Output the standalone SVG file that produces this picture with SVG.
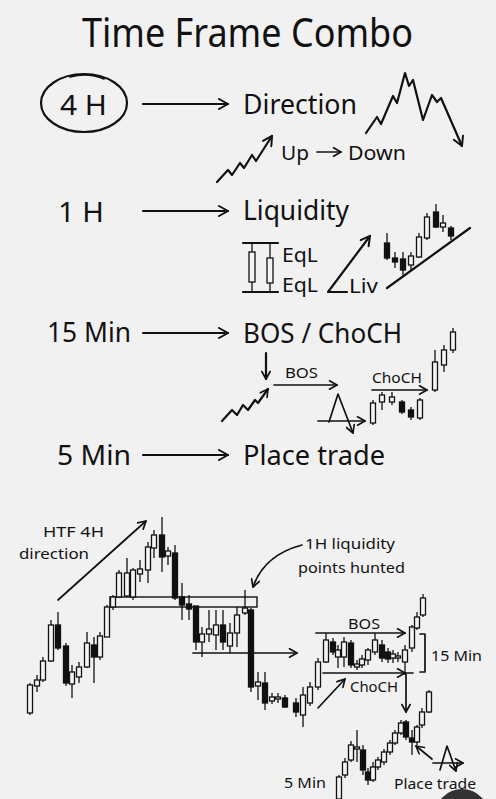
<svg xmlns="http://www.w3.org/2000/svg" width="496" height="799" viewBox="0 0 496 799">
<style>
text{font-family:"Noto Sans","Liberation Sans",sans-serif;fill:#111}
.t{font-size:28px}
.m{font-size:20px}
.s{font-size:15px}
.ln{fill:none;stroke:#111;stroke-width:2.2;stroke-linecap:round;stroke-linejoin:round}
.ln2{fill:none;stroke:#111;stroke-width:1.7;stroke-linecap:round;stroke-linejoin:round}
.cd path{stroke:#111;stroke-width:1.3;fill:none}
.cd rect{stroke:#111;stroke-width:1.3}
.w{fill:#f4f4f4}
.k{fill:#111}
</style>
<defs>
<marker id="a" viewBox="0 0 12 12" refX="11" refY="6" markerWidth="12" markerHeight="12" markerUnits="userSpaceOnUse" orient="auto"><path d="M2,1 L11,6 L2,11" fill="none" stroke="#111" stroke-width="2" stroke-linecap="round" stroke-linejoin="round"/></marker>
<marker id="b" viewBox="0 0 12 12" refX="11" refY="6" markerWidth="10" markerHeight="10" markerUnits="userSpaceOnUse" orient="auto"><path d="M2,1 L11,6 L2,11" fill="none" stroke="#111" stroke-width="2" stroke-linecap="round" stroke-linejoin="round"/></marker>
</defs>
<rect width="496" height="799" fill="#f1f1f1"/>

<g id="title"><text x="82" y="47" font-size="40" textLength="331" lengthAdjust="spacingAndGlyphs">Time Frame Combo</text></g>

<g id="row-4h">
<ellipse cx="84" cy="103" rx="43" ry="29" class="ln"/>
<path class="ln2" d="M70,77 Q88,72 104,79"/>
<text class="t" x="60" y="115" textLength="47" lengthAdjust="spacingAndGlyphs">4 H</text>
<text class="t" x="243" y="114" textLength="114" lengthAdjust="spacingAndGlyphs">Direction</text>
<path class="ln" d="M366,133 L377,117 L381,124 L393,96 L397,103 L405,73 L409,86 L413,80 L423,120 L432,95 L437,102 L441,98 L462,146" marker-end="url(#a)"/>
<path class="ln" d="M217,182 L228,170 L232,175 L240,163 L244,168 L252,155 L256,161 L263,150 L272,136" marker-end="url(#a)"/>
<text class="m" x="281" y="160" textLength="28" lengthAdjust="spacingAndGlyphs">Up</text>
<path class="ln2" d="M317,152H341" marker-end="url(#b)"/>
<text class="m" x="348" y="160" textLength="58" lengthAdjust="spacingAndGlyphs">Down</text>
</g>

<g id="row-1h">
<text class="t" x="58" y="222" textLength="46" lengthAdjust="spacingAndGlyphs">1 H</text>
<text class="t" x="243" y="220" textLength="106" lengthAdjust="spacingAndGlyphs">Liquidity</text>
<path class="ln" d="M243,243H278M243,292H278"/>
<g class="cd">
<path d="M252,243V292M270,243V292"/><rect class="w" x="249" y="252" width="6" height="30"/><rect class="w" x="267" y="258" width="6" height="25"/>
</g>
<text class="m" x="282" y="262" font-size="19" textLength="36" lengthAdjust="spacingAndGlyphs">EqL</text>
<text class="m" x="282" y="292" font-size="19" textLength="36" lengthAdjust="spacingAndGlyphs">EqL</text>
<path class="ln" d="M347,292H328L370,236" marker-end="url(#a)"/>
<text class="m" x="349" y="293" textLength="29" lengthAdjust="spacingAndGlyphs">Liv</text>
<path class="ln" d="M387,288L470,228"/>
<g class="cd">
<path d="M387,233V260"/><rect class="k" x="384.5" y="243" width="5" height="15"/>
<path d="M395,252V268"/><rect class="k" x="392.5" y="258" width="5" height="4"/>
<path d="M403,252V275"/><rect class="k" x="400.5" y="259" width="5" height="11"/>
<path d="M411,252V270"/><rect class="w" x="408.5" y="256" width="5" height="9"/>
<path d="M419,233V258"/><rect class="w" x="416.5" y="237" width="5" height="20"/>
<path d="M427,213V240"/><rect class="w" x="424.5" y="217" width="5" height="21"/>
<path d="M436,204V228"/><rect class="k" x="433.5" y="212" width="5" height="15"/>
<path d="M443,215V232"/><rect class="w" x="440.5" y="223" width="5" height="4"/>
<path d="M451,226V240"/><rect class="k" x="448.5" y="228" width="5" height="8"/>
</g>
</g>

<g id="row-15m">
<text class="t" x="47" y="342" textLength="84" lengthAdjust="spacingAndGlyphs">15 Min</text>
<text class="t" x="243" y="343" textLength="159" lengthAdjust="spacingAndGlyphs">BOS / ChoCH</text>
<path class="ln" d="M266,353V379" marker-end="url(#b)"/>
<path class="ln" d="M222,421 L232,410 L237,415 L243,405 L248,410 L255,400 L258,403 L268,389" marker-end="url(#b)"/>
<text class="s" x="285" y="378" font-size="16" textLength="33" lengthAdjust="spacingAndGlyphs">BOS</text>
<path class="ln2" d="M274,385H337" marker-end="url(#b)"/>
<path class="ln2" d="M318,421H365" marker-end="url(#b)"/>
<path class="ln2" d="M329,422L338,394L353,433" marker-end="url(#b)"/>
<text class="s" x="372" y="383" font-size="16" textLength="50" lengthAdjust="spacingAndGlyphs">ChoCH</text>
<path class="ln2" d="M372,390H427" marker-end="url(#b)"/>
<g class="cd">
<path d="M373,400V425"/><rect class="w" x="370.5" y="403" width="5" height="20"/>
<path d="M382,392V410"/><rect class="w" x="379.5" y="395" width="5" height="7"/>
<path d="M392,392V405"/><rect class="w" x="389.5" y="397" width="5" height="5"/>
<path d="M402,400V414"/><rect class="k" x="399.5" y="402" width="5" height="10"/>
<path d="M411,407V420"/><rect class="k" x="408.5" y="410" width="5" height="7"/>
<path d="M420,398V420"/><rect class="w" x="417.5" y="400" width="5" height="18"/>
<path d="M435,350V392"/><rect class="w" x="432.5" y="362" width="5" height="28"/>
<path d="M444,345V372"/><rect class="w" x="441.5" y="350" width="5" height="15"/>
<path d="M453,328V353"/><rect class="w" x="450.5" y="332" width="5" height="18"/>
</g>
</g>

<g id="row-5m">
<text class="t" x="57" y="465" textLength="74" lengthAdjust="spacingAndGlyphs">5 Min</text>
<text class="t" x="243" y="465" textLength="142" lengthAdjust="spacingAndGlyphs">Place trade</text>
</g>

<g id="connectors">
<path class="ln" d="M143,104H228" marker-end="url(#a)"/>
<path class="ln" d="M143,211H228" marker-end="url(#a)"/>
<path class="ln" d="M143,333H228" marker-end="url(#a)"/>
<path class="ln" d="M143,455H228" marker-end="url(#a)"/>
</g>

<g id="chart">
<text class="s" x="43" y="537" textLength="61" lengthAdjust="spacingAndGlyphs">HTF 4H</text>
<text class="s" x="19" y="559" textLength="70" lengthAdjust="spacingAndGlyphs">direction</text>
<path class="ln2" d="M58,600L146,521" marker-end="url(#b)"/>
<text class="s" x="305" y="549" textLength="90" lengthAdjust="spacingAndGlyphs">1H liquidity</text>
<text class="s" x="298" y="573" textLength="107" lengthAdjust="spacingAndGlyphs">points hunted</text>
<path class="ln2" d="M302,545Q264,555 253,587" marker-end="url(#b)"/>
<rect x="110" y="597" width="147" height="10" fill="none" stroke="#111" stroke-width="1.4"/>
<path class="ln2" d="M193,653H297" marker-end="url(#b)"/>
<g class="cd">
<path d="M30,683V715"/><rect class="w" x="27.5" y="685" width="5" height="28"/>
<path d="M37,675V692"/><rect class="w" x="34.5" y="680" width="5" height="6"/>
<path d="M43,657V682"/><rect class="w" x="40.5" y="661" width="5" height="19"/>
<path d="M51,620V662"/><rect class="w" x="48.5" y="625" width="5" height="36"/>
<path d="M58,612V650"/><rect class="k" x="55.5" y="625" width="5" height="23"/>
<path d="M66,643V686"/><rect class="k" x="63.5" y="646" width="5" height="37"/>
<path d="M72,665V698"/><rect class="w" x="69.5" y="672" width="5" height="12"/>
<path d="M79,662V683"/><rect class="w" x="76.5" y="667" width="5" height="10"/>
<path d="M87,632V668"/><rect class="w" x="84.5" y="643" width="5" height="24"/>
<path d="M94,637V683"/><rect class="k" x="91.5" y="645" width="5" height="12"/>
<path d="M100,632V660"/><rect class="w" x="97.5" y="636" width="5" height="21"/>
<path d="M107,605V637"/><rect class="w" x="104.5" y="607" width="5" height="30"/>
<path d="M113,595V610"/><rect class="w" x="110.5" y="597" width="5" height="10"/>
<path d="M119,570V598"/><rect class="w" x="116.5" y="573" width="5" height="24"/>
<path d="M127,558V597"/><rect class="w" x="124.5" y="573" width="5" height="23"/>
<path d="M133,568V600"/><rect class="w" x="130.5" y="570" width="5" height="27"/>
<path d="M140,560V582"/><rect class="w" x="137.5" y="569" width="5" height="5"/>
<path d="M148,542V583"/><rect class="w" x="145.5" y="547" width="5" height="23"/>
<path d="M154,530V558"/><rect class="w" x="151.5" y="535" width="5" height="13"/>
<path d="M162,517V572"/><rect class="k" x="159.5" y="535" width="5" height="22"/>
<path d="M168,547V565"/><rect class="w" x="165.5" y="551" width="5" height="5"/>
<path d="M175,545V600"/><rect class="k" x="172.5" y="553" width="5" height="45"/>
<path d="M182,583V620"/><rect class="k" x="179.5" y="597" width="5" height="8"/>
<path d="M189,595V620"/><rect class="k" x="186.5" y="604" width="5" height="5"/>
<path d="M196,606V650"/><rect class="k" x="193.5" y="606" width="5" height="36"/>
<path d="M202,627V657"/><rect class="w" x="199.5" y="634" width="5" height="8"/>
<path d="M209,610V642"/><rect class="w" x="206.5" y="629" width="5" height="5"/>
<path d="M216,610V650"/><rect class="w" x="213.5" y="625" width="5" height="10"/>
<path d="M223,610V650"/><rect class="k" x="220.5" y="625" width="5" height="17"/>
<path d="M230,623V653"/><rect class="w" x="227.5" y="633" width="5" height="13"/>
<path d="M237,607V647"/><rect class="w" x="234.5" y="615" width="5" height="18"/>
<path d="M245,590V615"/><rect class="w" x="242.5" y="608" width="5" height="5"/>
<path d="M251,608V692"/><rect class="k" x="248.5" y="610" width="5" height="77"/>
<path d="M258,672V700"/><rect class="w" x="255.5" y="682" width="5" height="4"/>
<path d="M265,672V710"/><rect class="k" x="262.5" y="683" width="5" height="20"/>
<path d="M272,693V704"/><rect class="w" x="269.5" y="697" width="5" height="4"/>
<path d="M278,693V703"/><rect class="w" x="275.5" y="697" width="5" height="2"/>
<path d="M285,695V708"/><rect class="k" x="282.5" y="698" width="5" height="9"/>
<path d="M296,698V717"/><rect class="k" x="293.5" y="703" width="5" height="9"/>
<path d="M303,687V727"/><rect class="w" x="300.5" y="695" width="5" height="20"/>
<path d="M310,682V706"/><rect class="w" x="307.5" y="687" width="5" height="16"/>
<path d="M318,658V690"/><rect class="w" x="315.5" y="662" width="5" height="25"/>
<path d="M326,633V663"/><rect class="w" x="323.5" y="640" width="5" height="22"/>
<path d="M333,638V655"/><rect class="k" x="330.5" y="642" width="5" height="10"/>
<path d="M338,645V668"/><rect class="w" x="335.5" y="650" width="5" height="7"/>
<path d="M344,637V667"/><rect class="w" x="341.5" y="642" width="5" height="15"/>
<path d="M351,640V668"/><rect class="k" x="348.5" y="643" width="5" height="22"/>
<path d="M357,660V670"/><rect class="w" x="354.5" y="664" width="5" height="3"/>
<path d="M362,655V668"/><rect class="w" x="359.5" y="659" width="5" height="6"/>
<path d="M368,648V665"/><rect class="w" x="365.5" y="650" width="5" height="10"/>
<path d="M375,633V655"/><rect class="w" x="372.5" y="640" width="5" height="12"/>
<path d="M382,640V662"/><rect class="k" x="379.5" y="645" width="5" height="13"/>
<path d="M388,648V663"/><rect class="k" x="385.5" y="652" width="5" height="7"/>
<path d="M393,650V663"/><rect class="w" x="390.5" y="654" width="5" height="4"/>
<path d="M398,652V662"/><rect class="w" x="395.5" y="656" width="5" height="2"/>
<path d="M405,645V675"/><rect class="w" x="402.5" y="650" width="5" height="12"/>
<path d="M412,625V652"/><rect class="w" x="409.5" y="627" width="5" height="21"/>
<path d="M417,612V630"/><rect class="w" x="414.5" y="617" width="5" height="11"/>
<path d="M423,594V617"/><rect class="w" x="420.5" y="598" width="5" height="17"/>
</g>
<path class="ln2" d="M316,633H405" marker-end="url(#b)"/>
<text class="s" x="348" y="629" textLength="32" lengthAdjust="spacingAndGlyphs">BOS</text>
<path class="ln2" d="M323,673H405" marker-end="url(#b)"/>
<path class="ln2" d="M405,673H413"/>
<text class="s" x="350" y="692" textLength="48" lengthAdjust="spacingAndGlyphs">ChoCH</text>
<path class="ln2" d="M318,708L345,679" marker-end="url(#b)"/>
<path class="ln2" d="M420,634H425V672H420"/>
<text class="s" x="431" y="661" textLength="51" lengthAdjust="spacingAndGlyphs">15 Min</text>
<path class="ln2" d="M406,674V712" marker-end="url(#b)"/>
<g class="cd">
<path d="M339,775V799"/><rect class="w" x="336.5" y="777" width="5" height="22"/>
<path d="M345,758V778"/><rect class="w" x="342.5" y="762" width="5" height="13"/>
<path d="M351,741V762"/><rect class="w" x="348.5" y="745" width="5" height="15"/>
<path d="M357,730V762"/><rect class="w" x="354.5" y="747" width="5" height="2"/>
<path d="M363,745V775"/><rect class="k" x="360.5" y="750" width="5" height="20"/>
<path d="M368,768V785"/><rect class="k" x="365.5" y="772" width="5" height="8"/>
<path d="M373,762V782"/><rect class="w" x="370.5" y="767" width="5" height="13"/>
<path d="M378,757V770"/><rect class="w" x="375.5" y="760" width="5" height="7"/>
<path d="M384,749V765"/><rect class="w" x="381.5" y="752" width="5" height="10"/>
<path d="M390,740V755"/><rect class="w" x="387.5" y="743" width="5" height="9"/>
<path d="M395,730V745"/><rect class="w" x="392.5" y="733" width="5" height="10"/>
<path d="M401,720V735"/><rect class="w" x="398.5" y="723" width="5" height="10"/>
<path d="M406,720V740"/><rect class="k" x="403.5" y="722" width="5" height="15"/>
<path d="M412,730V755"/><rect class="k" x="409.5" y="738" width="5" height="4"/>
<path d="M417,725V745"/><rect class="w" x="414.5" y="727" width="5" height="15"/>
<path d="M422,708V728"/><rect class="w" x="419.5" y="712" width="5" height="13"/>
<path d="M429,690V713"/><rect class="w" x="426.5" y="692" width="5" height="20"/>
</g>
<path class="ln2" d="M432,759L416,746" marker-end="url(#b)"/>
<path class="ln2" d="M433,763H463" marker-end="url(#b)"/>
<path class="ln2" d="M440,770L447,746L456,771" marker-end="url(#b)"/>
<text class="s" x="284" y="788" textLength="42" lengthAdjust="spacingAndGlyphs">5 Min</text>
<text class="s" x="394" y="789" textLength="82" lengthAdjust="spacingAndGlyphs">Place trade</text>
<circle cx="462" cy="816" r="27" fill="#333"/>
</g>
</svg>
